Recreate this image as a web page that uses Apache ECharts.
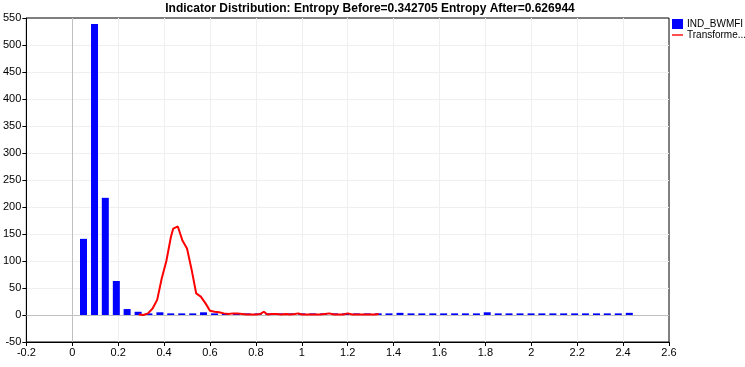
<!DOCTYPE html>
<html>
<head>
<meta charset="utf-8">
<script src="https://cdn.jsdelivr.net/npm/echarts@6/dist/echarts.min.js"></script>
<style>
html,body{margin:0;padding:0;background:#fff;}
#chart{width:745px;height:367px;}
</style>
</head>
<body>
<div id="chart"></div>
<script>
var titleText = 'Indicator Distribution: Entropy Before=0.342705 Entropy After=0.626944';
var seriesNames = ['IND_BWMFI', 'Transforme...'];

var binCenters = [0.049,0.097,0.144,0.192,0.239,0.287,0.334,0.382,0.429,0.477,
  0.525,0.572,0.620,0.667,0.715,0.762,0.810,0.857,0.905,0.953,
  1.000,1.048,1.095,1.143,1.190,1.238,1.285,1.333,1.380,1.428,
  1.476,1.523,1.571,1.618,1.666,1.713,1.761,1.808,1.856,1.903,
  1.951,1.999,2.046,2.094,2.141,2.189,2.236,2.284,2.331,2.379,2.427];
var binCounts = [141,539,217,63,11,6,3,5,3,3,
  3,5,3,3,3,3,3,3,3,3,
  3,3,3,3,3,3,3,3,3,4,
  3,3,3,3,3,3,3,5,3,3,
  3,3,3,3,3,3,3,3,3,3,4];

var lineX = [0.29,0.31,0.33,0.35,0.37,0.39,0.41,0.43,0.44,0.46,
  0.48,0.50,0.52,0.54,0.56,0.58,0.60,0.62,0.64,0.66,
  0.68,0.70,0.72,0.74,0.76,0.78,0.80,0.82,0.835,0.85,
  0.87,0.89,0.91,0.93,0.95,0.97,0.985,1.00,1.02,1.04,
  1.06,1.08,1.10,1.12,1.14,1.16,1.18,1.20,1.22,1.24,
  1.26,1.28,1.30,1.32,1.335];
var lineY = [1,0,3,12,28,68,100,145,160,164,
  138,123,84,40,34,22,8,6,5,3,
  2,3,3,2,1,1,1,2,6,1,
  2,2,1,2,1,2,3,1,1,1,
  1,1,2,3,1,1,1,3,1,1,
  1,1,1,1,2];

var xMin = -0.2, xMax = 2.6, xStep = 0.2;
var yMin = -50, yMax = 550, yStep = 50;

var font = 'Liberation Sans';
var chart = echarts.init(document.getElementById('chart'), null, {renderer: 'canvas'});

var barData = binCenters.map(function (x, i) { return [x, binCounts[i]]; });
var lineData = lineX.map(function (x, i) { return [x, lineY[i]]; });

chart.setOption({
  animation: false,
  backgroundColor: '#ffffff',
  title: {
    text: titleText,
    left: 365, textAlign: 'center',
    top: -2,
    textStyle: {fontFamily: font, fontSize: 12, fontWeight: 'bold', color: '#000'}
  },
  legend: {
    orient: 'vertical',
    left: 672, top: 19,
    itemWidth: 11, itemHeight: 10, itemGap: 1,
    textStyle: {fontFamily: font, fontSize: 10, color: '#000', padding: [0,0,0,-1]},
    padding: 0,
    data: [
      {name: seriesNames[0], icon: 'rect', itemStyle: {color: '#0000ff'}},
      {name: seriesNames[1], icon: 'path://M0,4.5 L12,4.5 L12,6 L0,6 Z', itemStyle: {color: '#ff0000'}}
    ]
  },
  grid: {
    left: 25, right: 76, top: 18, bottom: 25,
    show: true, borderColor: '#000', borderWidth: 1, backgroundColor: 'transparent'
  },
  xAxis: {
    type: 'value', min: xMin, max: xMax, interval: xStep,
    axisLine: {show: true, onZero: false, lineStyle: {color: '#000'}},
    axisTick: {show: true, length: 4, lineStyle: {color: '#000'}},
    axisLabel: {fontFamily: font, fontSize: 11, color: '#000', margin: 5,
      formatter: function (v) { return String(Math.round(v * 10) / 10); }},
    splitLine: {show: true, showMinLine: false, showMaxLine: false, lineStyle: {color: '#efefef', width: 1}}
  },
  yAxis: {
    type: 'value', min: yMin, max: yMax, interval: yStep,
    axisLine: {show: true, onZero: false, lineStyle: {color: '#000'}},
    axisTick: {show: true, length: 4, lineStyle: {color: '#000'}},
    axisLabel: {fontFamily: font, fontSize: 11, color: '#000', margin: 5},
    splitLine: {show: true, showMinLine: false, showMaxLine: false, lineStyle: {color: '#efefef', width: 1}}
  },
  series: [
    {
      name: seriesNames[0], type: 'bar', data: barData, barWidth: 7,
      itemStyle: {color: '#0000ff'},
      z: 3,
      markLine: {
        silent: true, symbol: 'none', label: {show: false},
        lineStyle: {color: '#c0c0c0', type: 'solid', width: 1},
        data: [{xAxis: 0}, {yAxis: 0}],
        z: 1
      }
    },
    {
      name: seriesNames[1], type: 'line', data: lineData,
      showSymbol: false, symbol: 'none',
      lineStyle: {color: '#ff0000', width: 2},
      itemStyle: {color: '#ff0000'},
      z: 4
    }
  ]
});
</script>
</body>
</html>
